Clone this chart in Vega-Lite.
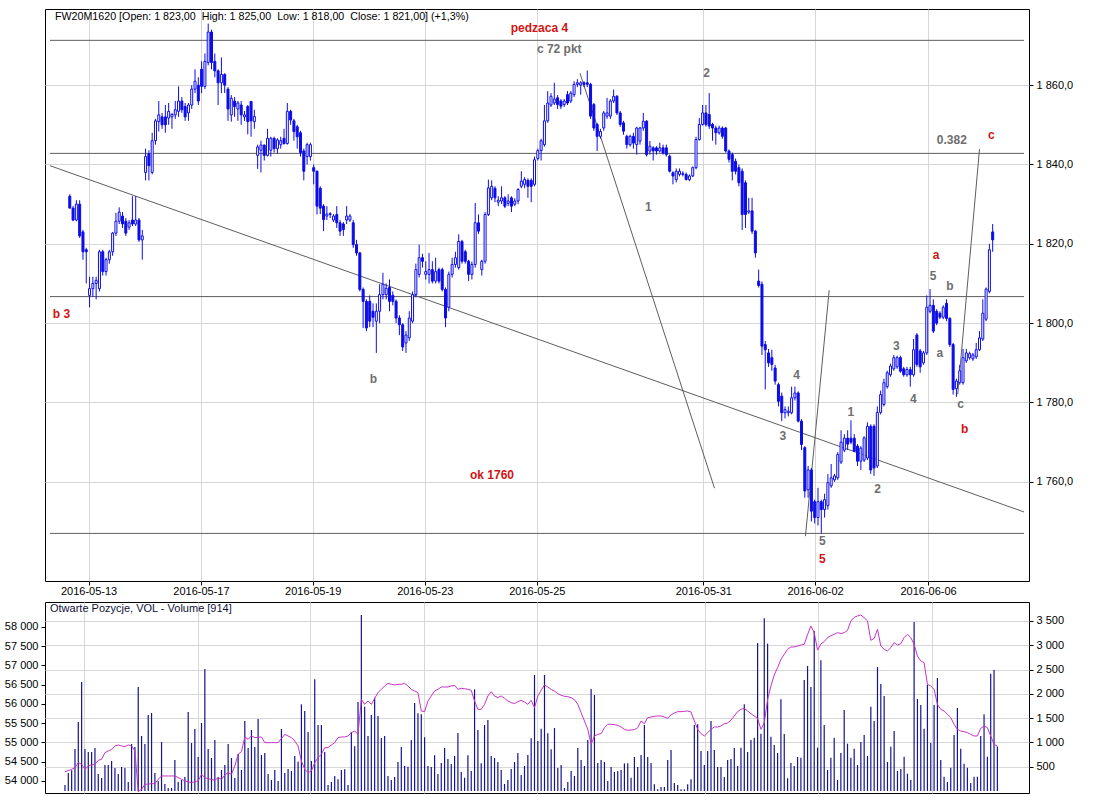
{
"$schema":"https://vega.github.io/schema/vega-lite/v6.json",
"background":"white",
"padding":{"left":3,"top":8,"right":5,"bottom":0},
"autosize":{"type":"pad"},
"config":{"view":{"stroke":"#000","strokeWidth":1},"font":"Liberation Sans","text":{"font":"Liberation Sans"}},
"bounds":"flush",
"spacing":21,
"datasets":{
"b":[
{"i":0,"o":1832,"h":1832.5,"l":1829,"c":1829,"v":123,"oi":54242},
{"i":1,"o":1829,"h":1829.5,"l":1825.7,"c":1826,"v":370,"oi":54270},
{"i":2,"o":1826,"h":1831,"l":1825.7,"c":1830,"v":425,"oi":54303},
{"i":3,"o":1830,"h":1831,"l":1821.5,"c":1822,"v":864,"oi":54346},
{"i":4,"o":1823,"h":1823.5,"l":1816,"c":1818,"v":1420,"oi":54476},
{"i":5,"o":1818.5,"h":1819,"l":1810,"c":1818,"v":2243,"oi":54433},
{"i":6,"o":1807,"h":1811.7,"l":1804,"c":1808.7,"v":864,"oi":54303},
{"i":7,"o":1808.7,"h":1811.7,"l":1806.6,"c":1810,"v":802,"oi":54390},
{"i":8,"o":1810,"h":1811.7,"l":1806,"c":1810.8,"v":802,"oi":54416},
{"i":9,"o":1808.7,"h":1818.5,"l":1808,"c":1818,"v":885,"oi":54433},
{"i":10,"o":1818,"h":1818.5,"l":1812,"c":1813,"v":350,"oi":54537},
{"i":11,"o":1813,"h":1816.5,"l":1812,"c":1816,"v":267,"oi":54563},
{"i":12,"o":1816,"h":1818.5,"l":1815,"c":1818,"v":535,"oi":54736},
{"i":13,"o":1818,"h":1823,"l":1817,"c":1822.7,"v":535,"oi":54779},
{"i":14,"o":1822.7,"h":1827.8,"l":1822,"c":1825.7,"v":617,"oi":54822},
{"i":15,"o":1825.7,"h":1829.2,"l":1825,"c":1828,"v":473,"oi":54909},
{"i":16,"o":1827,"h":1828,"l":1824,"c":1825,"v":350,"oi":54935},
{"i":17,"o":1825.7,"h":1826.5,"l":1822,"c":1822.7,"v":494,"oi":54910},
{"i":18,"o":1824.2,"h":1826,"l":1823.5,"c":1825.3,"v":473,"oi":54892},
{"i":19,"o":1826,"h":1832,"l":1824.5,"c":1825,"v":185,"oi":54935},
{"i":20,"o":1825,"h":1832,"l":1824.5,"c":1826,"v":967,"oi":54909},
{"i":21,"o":1826,"h":1826.5,"l":1820.5,"c":1821,"v":905,"oi":54779},
{"i":22,"o":1821,"h":1823.5,"l":1816,"c":1822,"v":2140,"oi":53723},
{"i":23,"o":1838,"h":1844,"l":1836,"c":1842,"v":1132,"oi":53784},
{"i":24,"o":1842.7,"h":1843.6,"l":1836,"c":1839.7,"v":967,"oi":53913},
{"i":25,"o":1838,"h":1848,"l":1837.5,"c":1846,"v":1564,"oi":53920},
{"i":26,"o":1846,"h":1851.5,"l":1845,"c":1851,"v":1605,"oi":53931},
{"i":27,"o":1850.8,"h":1856,"l":1848.3,"c":1852.5,"v":370,"oi":53931},
{"i":28,"o":1852,"h":1853,"l":1849,"c":1850,"v":206,"oi":54043},
{"i":29,"o":1852,"h":1855,"l":1848,"c":1850,"v":1008,"oi":54130},
{"i":30,"o":1851.7,"h":1855.5,"l":1850,"c":1853.4,"v":144,"oi":54130},
{"i":31,"o":1852,"h":1853,"l":1849,"c":1852.6,"v":62,"oi":54130},
{"i":32,"o":1852.5,"h":1856,"l":1851.5,"c":1853.8,"v":62,"oi":54130},
{"i":33,"o":1853.4,"h":1859.7,"l":1852,"c":1856,"v":638,"oi":54130},
{"i":34,"o":1856,"h":1857,"l":1853,"c":1853.8,"v":185,"oi":54090},
{"i":35,"o":1854.6,"h":1855.5,"l":1851,"c":1852,"v":226,"oi":54043},
{"i":36,"o":1853,"h":1855.5,"l":1851,"c":1855,"v":288,"oi":54000},
{"i":37,"o":1855,"h":1860,"l":1854,"c":1859,"v":1625,"oi":53980},
{"i":38,"o":1859,"h":1864,"l":1858,"c":1861,"v":988,"oi":53957},
{"i":39,"o":1860,"h":1862,"l":1855,"c":1856,"v":1276,"oi":53980},
{"i":40,"o":1864,"h":1866,"l":1858,"c":1859.7,"v":700,"oi":54000},
{"i":41,"o":1859.7,"h":1868,"l":1859,"c":1866,"v":1399,"oi":54173},
{"i":42,"o":1865.7,"h":1875.5,"l":1865,"c":1873.4,"v":2510,"oi":54087},
{"i":43,"o":1873.4,"h":1874,"l":1864,"c":1865.7,"v":864,"oi":54060},
{"i":44,"o":1866,"h":1868,"l":1862,"c":1863.6,"v":679,"oi":54043},
{"i":45,"o":1863.6,"h":1864,"l":1855,"c":1860.6,"v":1049,"oi":54017},
{"i":46,"o":1860.6,"h":1867,"l":1858,"c":1862.7,"v":288,"oi":54087},
{"i":47,"o":1862.7,"h":1863,"l":1858,"c":1860,"v":432,"oi":54043},
{"i":48,"o":1859,"h":1859.5,"l":1851,"c":1854,"v":535,"oi":54156},
{"i":49,"o":1852.5,"h":1857.5,"l":1850.8,"c":1856.7,"v":967,"oi":54216},
{"i":50,"o":1856,"h":1857,"l":1852,"c":1854.6,"v":679,"oi":54173},
{"i":51,"o":1854,"h":1856,"l":1851,"c":1855.5,"v":267,"oi":54390},
{"i":52,"o":1855,"h":1856,"l":1850,"c":1852.5,"v":761,"oi":54693},
{"i":53,"o":1852,"h":1853.5,"l":1851,"c":1852.5,"v":432,"oi":54762},
{"i":54,"o":1854.6,"h":1855,"l":1847.6,"c":1850.8,"v":1440,"oi":55143},
{"i":55,"o":1855.9,"h":1856,"l":1847,"c":1851,"v":885,"oi":55082},
{"i":56,"o":1850.8,"h":1853.8,"l":1849,"c":1852.1,"v":1255,"oi":55169},
{"i":57,"o":1842.3,"h":1845,"l":1838.9,"c":1844.4,"v":905,"oi":55126},
{"i":58,"o":1843.6,"h":1846,"l":1838,"c":1844.9,"v":1481,"oi":55135},
{"i":59,"o":1844.9,"h":1845,"l":1841,"c":1842.3,"v":741,"oi":55143},
{"i":60,"o":1842.3,"h":1849,"l":1842,"c":1846.6,"v":782,"oi":54996},
{"i":61,"o":1843.6,"h":1847,"l":1842,"c":1846.6,"v":350,"oi":54996},
{"i":62,"o":1846.6,"h":1847,"l":1843,"c":1844,"v":226,"oi":54996},
{"i":63,"o":1844,"h":1846.6,"l":1842.7,"c":1846.2,"v":432,"oi":54996},
{"i":64,"o":1845,"h":1847,"l":1844,"c":1846,"v":206,"oi":54996},
{"i":65,"o":1846.6,"h":1849,"l":1845,"c":1845.3,"v":1276,"oi":55100},
{"i":66,"o":1845.3,"h":1855.5,"l":1845,"c":1853.4,"v":370,"oi":55212},
{"i":67,"o":1853.4,"h":1853.8,"l":1850,"c":1851.2,"v":453,"oi":55169},
{"i":68,"o":1851,"h":1851.5,"l":1846,"c":1848.3,"v":412,"oi":55126},
{"i":69,"o":1849.5,"h":1850,"l":1844,"c":1847,"v":720,"oi":55039},
{"i":70,"o":1848,"h":1848.5,"l":1842,"c":1843,"v":600,"oi":54909},
{"i":71,"o":1843.4,"h":1844,"l":1836,"c":1838.3,"v":1783,"oi":54519},
{"i":72,"o":1842,"h":1845.5,"l":1840,"c":1845,"v":1646,"oi":54303},
{"i":73,"o":1842,"h":1845.5,"l":1841,"c":1845,"v":1214,"oi":54216},
{"i":74,"o":1839.2,"h":1840,"l":1835,"c":1838.3,"v":617,"oi":54260},
{"i":75,"o":1838.3,"h":1838.5,"l":1827.4,"c":1829.5,"v":2298,"oi":54476},
{"i":76,"o":1834,"h":1834.5,"l":1827.5,"c":1829,"v":1358,"oi":54606},
{"i":77,"o":1829.5,"h":1830,"l":1823.2,"c":1826.1,"v":1358,"oi":54693},
{"i":78,"o":1827,"h":1829.5,"l":1826,"c":1827.5,"v":802,"oi":54866},
{"i":79,"o":1827.4,"h":1828,"l":1826.5,"c":1827.6,"v":123,"oi":54866},
{"i":80,"o":1826,"h":1827.5,"l":1825.5,"c":1827,"v":185,"oi":54935},
{"i":81,"o":1827.4,"h":1829.5,"l":1824,"c":1825.3,"v":309,"oi":54996},
{"i":82,"o":1825.3,"h":1826,"l":1822,"c":1823.2,"v":240,"oi":55126},
{"i":83,"o":1825,"h":1825.5,"l":1822,"c":1823.6,"v":432,"oi":55143},
{"i":84,"o":1826,"h":1829.5,"l":1825,"c":1827,"v":446,"oi":55143},
{"i":85,"o":1826,"h":1827.5,"l":1825.5,"c":1827,"v":123,"oi":55169},
{"i":86,"o":1825.3,"h":1826,"l":1819,"c":1819.8,"v":1214,"oi":55255},
{"i":87,"o":1819.8,"h":1821,"l":1817,"c":1817.7,"v":919,"oi":55299},
{"i":88,"o":1817.7,"h":1818,"l":1808,"c":1808.5,"v":1831,"oi":55212},
{"i":89,"o":1808.5,"h":1809,"l":1798.8,"c":1805.5,"v":3621,"oi":56121},
{"i":90,"o":1805.5,"h":1806,"l":1798,"c":1798.8,"v":1735,"oi":55991},
{"i":91,"o":1805.5,"h":1807,"l":1799,"c":1800.5,"v":1132,"oi":56078},
{"i":92,"o":1803,"h":1805,"l":1799,"c":1801.5,"v":1564,"oi":55991},
{"i":93,"o":1800.5,"h":1805,"l":1792.5,"c":1803,"v":1920,"oi":56147},
{"i":94,"o":1803,"h":1809.8,"l":1800,"c":1807.2,"v":1543,"oi":56294},
{"i":95,"o":1807.2,"h":1812.7,"l":1806,"c":1809.8,"v":1091,"oi":56381},
{"i":96,"o":1807.2,"h":1810,"l":1806,"c":1808.8,"v":1132,"oi":56468},
{"i":97,"o":1809,"h":1811,"l":1803,"c":1805.5,"v":309,"oi":56537},
{"i":98,"o":1807,"h":1808,"l":1804.5,"c":1805.5,"v":226,"oi":56511},
{"i":99,"o":1805.5,"h":1806,"l":1800,"c":1801.3,"v":288,"oi":56494},
{"i":100,"o":1801.3,"h":1802,"l":1797,"c":1799.6,"v":597,"oi":56511},
{"i":101,"o":1799.6,"h":1800,"l":1793,"c":1794,"v":905,"oi":56511},
{"i":102,"o":1795,"h":1798,"l":1792.5,"c":1797,"v":514,"oi":56537},
{"i":103,"o":1796.3,"h":1803,"l":1795.5,"c":1801.3,"v":501,"oi":56468},
{"i":104,"o":1800.5,"h":1808,"l":1800,"c":1807.2,"v":1049,"oi":56381},
{"i":105,"o":1807.2,"h":1815,"l":1806.5,"c":1813.5,"v":1811,"oi":56338},
{"i":106,"o":1812.3,"h":1819.8,"l":1811.5,"c":1816.5,"v":1598,"oi":56294},
{"i":107,"o":1816.5,"h":1817.5,"l":1814,"c":1815.6,"v":1578,"oi":55818},
{"i":108,"o":1812.3,"h":1815.6,"l":1811,"c":1813,"v":1104,"oi":55801},
{"i":109,"o":1812.3,"h":1817.7,"l":1810,"c":1813.5,"v":514,"oi":56078},
{"i":110,"o":1813.5,"h":1815.6,"l":1810,"c":1810.6,"v":494,"oi":56208},
{"i":111,"o":1810.6,"h":1816.5,"l":1810,"c":1813,"v":734,"oi":56338},
{"i":112,"o":1813.5,"h":1814,"l":1810,"c":1810.6,"v":350,"oi":56381},
{"i":113,"o":1813.5,"h":1814,"l":1808,"c":1808.5,"v":576,"oi":56442},
{"i":114,"o":1808.5,"h":1809,"l":1799,"c":1801.3,"v":885,"oi":56442},
{"i":115,"o":1804,"h":1813,"l":1803,"c":1812.3,"v":658,"oi":56442},
{"i":116,"o":1812.3,"h":1816.5,"l":1811.5,"c":1814.8,"v":556,"oi":56468},
{"i":117,"o":1814.8,"h":1818,"l":1814,"c":1816.5,"v":720,"oi":56485},
{"i":118,"o":1814,"h":1822.4,"l":1813.5,"c":1820.6,"v":1193,"oi":56381},
{"i":119,"o":1820.6,"h":1821,"l":1815,"c":1815.6,"v":391,"oi":56407},
{"i":120,"o":1818,"h":1818.5,"l":1815,"c":1815.6,"v":274,"oi":56398},
{"i":121,"o":1815.6,"h":1816,"l":1810.6,"c":1812.3,"v":734,"oi":56381},
{"i":122,"o":1812.3,"h":1815.5,"l":1811,"c":1814.8,"v":412,"oi":56355},
{"i":123,"o":1814.8,"h":1830.3,"l":1814,"c":1825.3,"v":2092,"oi":56078},
{"i":124,"o":1825.3,"h":1827.4,"l":1822.5,"c":1823.2,"v":1255,"oi":55861},
{"i":125,"o":1813.5,"h":1816,"l":1812,"c":1815.6,"v":569,"oi":55861},
{"i":126,"o":1815.6,"h":1828,"l":1815,"c":1827.4,"v":1358,"oi":55991},
{"i":127,"o":1827.4,"h":1836.2,"l":1827,"c":1834.1,"v":1461,"oi":56208},
{"i":128,"o":1831.6,"h":1836,"l":1831,"c":1834.5,"v":720,"oi":56320},
{"i":129,"o":1834,"h":1834.5,"l":1830.5,"c":1831.6,"v":679,"oi":56208},
{"i":130,"o":1830.5,"h":1832,"l":1829.5,"c":1831,"v":597,"oi":56165},
{"i":131,"o":1830.8,"h":1834.5,"l":1830,"c":1831.6,"v":432,"oi":56208},
{"i":132,"o":1831.6,"h":1832,"l":1829,"c":1829.5,"v":144,"oi":56147},
{"i":133,"o":1830.2,"h":1832.5,"l":1829.5,"c":1830.8,"v":226,"oi":56078},
{"i":134,"o":1831.6,"h":1832,"l":1828,"c":1829.5,"v":453,"oi":56035},
{"i":135,"o":1830,"h":1831.5,"l":1829.5,"c":1830.8,"v":597,"oi":56009},
{"i":136,"o":1830.8,"h":1834,"l":1830,"c":1833.7,"v":782,"oi":56061},
{"i":137,"o":1834.5,"h":1838.3,"l":1834,"c":1835.8,"v":329,"oi":56095},
{"i":138,"o":1835,"h":1836.8,"l":1834,"c":1836.2,"v":514,"oi":56052},
{"i":139,"o":1836,"h":1836.5,"l":1831.6,"c":1834.5,"v":741,"oi":55991},
{"i":140,"o":1836,"h":1836.5,"l":1830.5,"c":1834.5,"v":1084,"oi":56095},
{"i":141,"o":1835,"h":1842,"l":1834.5,"c":1841.2,"v":2387,"oi":55905},
{"i":142,"o":1841.5,"h":1844,"l":1841,"c":1843.5,"v":1029,"oi":56208},
{"i":143,"o":1843.5,"h":1846.5,"l":1841,"c":1846,"v":1283,"oi":56355},
{"i":144,"o":1845,"h":1855,"l":1844.5,"c":1851,"v":2387,"oi":56494},
{"i":145,"o":1851,"h":1858.5,"l":1850.5,"c":1855.5,"v":1187,"oi":56442},
{"i":146,"o":1855,"h":1858,"l":1854.5,"c":1857.2,"v":857,"oi":56381},
{"i":147,"o":1855.5,"h":1860.6,"l":1855,"c":1856.5,"v":1296,"oi":56338},
{"i":148,"o":1856.8,"h":1857.5,"l":1854,"c":1855.1,"v":473,"oi":56268},
{"i":149,"o":1856,"h":1856.5,"l":1854,"c":1854.7,"v":535,"oi":56225},
{"i":150,"o":1855.1,"h":1856.5,"l":1854.5,"c":1856,"v":62,"oi":56199},
{"i":151,"o":1857.6,"h":1858.5,"l":1855,"c":1855.5,"v":185,"oi":56190},
{"i":152,"o":1856,"h":1858.5,"l":1855.5,"c":1858,"v":412,"oi":56165},
{"i":153,"o":1857.6,"h":1861,"l":1857,"c":1860.2,"v":309,"oi":56113},
{"i":154,"o":1860.2,"h":1861.5,"l":1859.5,"c":1860.6,"v":885,"oi":55991},
{"i":155,"o":1860,"h":1861,"l":1857.6,"c":1860.6,"v":638,"oi":55775},
{"i":156,"o":1860.6,"h":1861,"l":1859.5,"c":1860.2,"v":514,"oi":55558},
{"i":157,"o":1860.6,"h":1863.7,"l":1859.5,"c":1860.2,"v":1049,"oi":55342},
{"i":158,"o":1860.2,"h":1860.6,"l":1851.5,"c":1852.2,"v":2099,"oi":54952},
{"i":159,"o":1855.1,"h":1855.5,"l":1848.5,"c":1849.2,"v":1975,"oi":55169},
{"i":160,"o":1850.1,"h":1850.5,"l":1843.4,"c":1847.1,"v":576,"oi":55212},
{"i":161,"o":1847.1,"h":1849,"l":1846.5,"c":1848.3,"v":638,"oi":55229},
{"i":162,"o":1849.2,"h":1853.5,"l":1848.5,"c":1853,"v":597,"oi":55385},
{"i":163,"o":1852.2,"h":1856.8,"l":1851.5,"c":1853,"v":206,"oi":55472},
{"i":164,"o":1852.2,"h":1856.5,"l":1851.5,"c":1856,"v":494,"oi":55472},
{"i":165,"o":1856,"h":1858.9,"l":1855.5,"c":1857.2,"v":391,"oi":55463},
{"i":166,"o":1857.2,"h":1857.5,"l":1852.5,"c":1853,"v":412,"oi":55446},
{"i":167,"o":1853,"h":1853.5,"l":1849.5,"c":1850.1,"v":432,"oi":55403},
{"i":168,"o":1850.5,"h":1851,"l":1847.5,"c":1848.4,"v":569,"oi":55342},
{"i":169,"o":1847.1,"h":1847.5,"l":1844,"c":1845,"v":569,"oi":55316},
{"i":170,"o":1845,"h":1847.5,"l":1844.5,"c":1847.1,"v":274,"oi":55325},
{"i":171,"o":1847.1,"h":1848,"l":1844,"c":1845.4,"v":700,"oi":55333},
{"i":172,"o":1845,"h":1849.5,"l":1842.5,"c":1849.2,"v":494,"oi":55385},
{"i":173,"o":1845.9,"h":1849.5,"l":1845,"c":1849.2,"v":741,"oi":55558},
{"i":174,"o":1849.2,"h":1853,"l":1848.5,"c":1850.9,"v":1358,"oi":55489},
{"i":175,"o":1850.9,"h":1851.2,"l":1842,"c":1842.5,"v":700,"oi":55645},
{"i":176,"o":1843.4,"h":1845.9,"l":1842.5,"c":1844.6,"v":576,"oi":55662},
{"i":177,"o":1844.2,"h":1844.6,"l":1841,"c":1843.4,"v":137,"oi":55680},
{"i":178,"o":1844.2,"h":1844.6,"l":1842.5,"c":1843.4,"v":34,"oi":55688},
{"i":179,"o":1843.4,"h":1845.5,"l":1843,"c":1844.2,"v":82,"oi":55688},
{"i":180,"o":1844.2,"h":1845,"l":1842.5,"c":1842.9,"v":82,"oi":55662},
{"i":181,"o":1844.2,"h":1845,"l":1842,"c":1842.5,"v":638,"oi":55628},
{"i":182,"o":1842.1,"h":1842.5,"l":1838,"c":1838.3,"v":844,"oi":55714},
{"i":183,"o":1837.9,"h":1838.3,"l":1835,"c":1837.1,"v":165,"oi":55766},
{"i":184,"o":1836.2,"h":1839,"l":1835.5,"c":1838.3,"v":123,"oi":55801},
{"i":185,"o":1837.5,"h":1839,"l":1837,"c":1838.3,"v":34,"oi":55801},
{"i":186,"o":1837.5,"h":1838.3,"l":1837,"c":1837.7,"v":34,"oi":55810},
{"i":187,"o":1837.5,"h":1838,"l":1836,"c":1836.2,"v":137,"oi":55818},
{"i":188,"o":1836.2,"h":1837.5,"l":1835.8,"c":1837.1,"v":240,"oi":55792},
{"i":189,"o":1837.1,"h":1839.5,"l":1836.8,"c":1839.2,"v":1358,"oi":55558},
{"i":190,"o":1839.2,"h":1847,"l":1838.8,"c":1846.3,"v":1372,"oi":55342},
{"i":191,"o":1846.3,"h":1851.7,"l":1846,"c":1850.1,"v":823,"oi":55229},
{"i":192,"o":1850.1,"h":1855,"l":1849.8,"c":1853,"v":535,"oi":55169},
{"i":193,"o":1853,"h":1855,"l":1849.5,"c":1850.1,"v":823,"oi":55255},
{"i":194,"o":1852.6,"h":1858,"l":1849,"c":1849.7,"v":1440,"oi":55342},
{"i":195,"o":1850.1,"h":1850.5,"l":1846,"c":1849.2,"v":844,"oi":55403},
{"i":196,"o":1849.2,"h":1849.8,"l":1845,"c":1848,"v":494,"oi":55403},
{"i":197,"o":1848,"h":1849.8,"l":1847.5,"c":1849.2,"v":494,"oi":55429},
{"i":198,"o":1849.2,"h":1849.6,"l":1846.5,"c":1847.1,"v":288,"oi":55489},
{"i":199,"o":1849.2,"h":1849.5,"l":1843,"c":1843.4,"v":638,"oi":55506},
{"i":200,"o":1843.4,"h":1843.8,"l":1840.5,"c":1841.3,"v":658,"oi":55584},
{"i":201,"o":1842.5,"h":1843,"l":1836,"c":1838.3,"v":885,"oi":55688},
{"i":202,"o":1840.8,"h":1841.5,"l":1837.5,"c":1838.3,"v":514,"oi":55801},
{"i":203,"o":1839.2,"h":1840,"l":1834.5,"c":1835.4,"v":892,"oi":55861},
{"i":204,"o":1838.3,"h":1839,"l":1823.5,"c":1827.4,"v":1783,"oi":55887},
{"i":205,"o":1835.4,"h":1836,"l":1824,"c":1827.4,"v":802,"oi":55818},
{"i":206,"o":1828,"h":1831.6,"l":1827.5,"c":1828.3,"v":1049,"oi":55749},
{"i":207,"o":1828.3,"h":1831.6,"l":1822.5,"c":1823.2,"v":1097,"oi":55688},
{"i":208,"o":1823.2,"h":1823.5,"l":1816.5,"c":1817.7,"v":3045,"oi":55628},
{"i":209,"o":1810.6,"h":1813.5,"l":1809,"c":1809.5,"v":1180,"oi":55342},
{"i":210,"o":1809.8,"h":1810.5,"l":1792,"c":1794.2,"v":3553,"oi":55515},
{"i":211,"o":1794.6,"h":1795.5,"l":1783.3,"c":1793.3,"v":3032,"oi":56121},
{"i":212,"o":1792.5,"h":1793.5,"l":1789,"c":1790,"v":1118,"oi":56468},
{"i":213,"o":1791.3,"h":1793.3,"l":1788,"c":1789.6,"v":947,"oi":56753},
{"i":214,"o":1788.7,"h":1789.5,"l":1784.5,"c":1785.4,"v":782,"oi":56944},
{"i":215,"o":1784.5,"h":1785,"l":1779,"c":1780.3,"v":1886,"oi":57160},
{"i":216,"o":1781.6,"h":1782.5,"l":1775.3,"c":1777.4,"v":1173,"oi":57290},
{"i":217,"o":1777.4,"h":1779,"l":1776,"c":1778.2,"v":261,"oi":57420},
{"i":218,"o":1777.4,"h":1779,"l":1776.5,"c":1777.8,"v":576,"oi":57481},
{"i":219,"o":1777.4,"h":1784,"l":1777,"c":1781.2,"v":514,"oi":57481},
{"i":220,"o":1781.2,"h":1784,"l":1780.5,"c":1782.4,"v":700,"oi":57506},
{"i":221,"o":1782.4,"h":1782.8,"l":1775,"c":1775.3,"v":686,"oi":57530},
{"i":222,"o":1775.3,"h":1775.8,"l":1768,"c":1769.4,"v":2284,"oi":57550},
{"i":223,"o":1768.6,"h":1769,"l":1756,"c":1757.7,"v":2572,"oi":57800},
{"i":224,"o":1758,"h":1764,"l":1756,"c":1763,"v":2140,"oi":58026},
{"i":225,"o":1763,"h":1763.5,"l":1750,"c":1752.6,"v":3292,"oi":57853},
{"i":226,"o":1755,"h":1755.5,"l":1749.5,"c":1751,"v":892,"oi":57400},
{"i":227,"o":1751,"h":1758.5,"l":1749,"c":1755,"v":2689,"oi":57560},
{"i":228,"o":1755,"h":1755.5,"l":1747,"c":1753,"v":1358,"oi":57619},
{"i":229,"o":1753,"h":1757,"l":1751,"c":1755.5,"v":432,"oi":57723},
{"i":230,"o":1754,"h":1762,"l":1753,"c":1759.8,"v":686,"oi":57770},
{"i":231,"o":1759,"h":1764.5,"l":1758.5,"c":1761,"v":1097,"oi":57810},
{"i":232,"o":1760.5,"h":1762,"l":1760,"c":1761.5,"v":226,"oi":57853},
{"i":233,"o":1761,"h":1767.5,"l":1760.5,"c":1766.9,"v":782,"oi":57830},
{"i":234,"o":1765,"h":1773,"l":1764.5,"c":1770,"v":1667,"oi":57850},
{"i":235,"o":1768,"h":1772,"l":1767.5,"c":1771,"v":974,"oi":57913},
{"i":236,"o":1771,"h":1773,"l":1768,"c":1769.5,"v":686,"oi":58156},
{"i":237,"o":1771,"h":1775.5,"l":1769.5,"c":1770,"v":871,"oi":58250},
{"i":238,"o":1771,"h":1772,"l":1767.5,"c":1767.7,"v":535,"oi":58286},
{"i":239,"o":1769,"h":1769.5,"l":1764,"c":1765.2,"v":1008,"oi":58312},
{"i":240,"o":1765.2,"h":1769,"l":1763,"c":1768.5,"v":1152,"oi":58242},
{"i":241,"o":1765.5,"h":1771.5,"l":1765,"c":1771.1,"v":720,"oi":58156},
{"i":242,"o":1766,"h":1775,"l":1765.5,"c":1774,"v":1735,"oi":57654},
{"i":243,"o":1774,"h":1774.5,"l":1762,"c":1763,"v":1440,"oi":57700},
{"i":244,"o":1774,"h":1774.5,"l":1761.5,"c":1763.5,"v":2551,"oi":57939},
{"i":245,"o":1764,"h":1779,"l":1763.5,"c":1777.5,"v":2202,"oi":57506},
{"i":246,"o":1777.5,"h":1783,"l":1777,"c":1782,"v":1955,"oi":57420},
{"i":247,"o":1779.5,"h":1786,"l":1779,"c":1785,"v":597,"oi":57377},
{"i":248,"o":1784,"h":1788,"l":1783.5,"c":1787.5,"v":912,"oi":57463},
{"i":249,"o":1787,"h":1789.8,"l":1786.5,"c":1789.2,"v":1235,"oi":57593},
{"i":250,"o":1788.5,"h":1792,"l":1788,"c":1791.3,"v":412,"oi":57532},
{"i":251,"o":1789,"h":1791.8,"l":1788.5,"c":1791.3,"v":453,"oi":57567},
{"i":252,"o":1791.3,"h":1791.8,"l":1787.5,"c":1787.9,"v":706,"oi":57723},
{"i":253,"o":1788.5,"h":1789,"l":1786.5,"c":1787,"v":357,"oi":57810},
{"i":254,"o":1787,"h":1789,"l":1786.5,"c":1788.3,"v":226,"oi":57723},
{"i":255,"o":1788.3,"h":1789,"l":1784,"c":1787,"v":3477,"oi":57550},
{"i":256,"o":1787,"h":1796,"l":1786.5,"c":1793.3,"v":1893,"oi":57247},
{"i":257,"o":1797,"h":1797.5,"l":1789,"c":1789.6,"v":1770,"oi":57117},
{"i":258,"o":1793,"h":1793.5,"l":1787.5,"c":1789,"v":1283,"oi":57074},
{"i":259,"o":1790,"h":1793,"l":1789.5,"c":1792.5,"v":2181,"oi":56511},
{"i":260,"o":1792.5,"h":1807,"l":1792,"c":1804,"v":988,"oi":56468},
{"i":261,"o":1803,"h":1808.6,"l":1802.5,"c":1804.5,"v":1770,"oi":56381},
{"i":262,"o":1804.5,"h":1806,"l":1797.5,"c":1798,"v":2325,"oi":55991},
{"i":263,"o":1803,"h":1803.5,"l":1799.5,"c":1800,"v":638,"oi":55861},
{"i":264,"o":1802.5,"h":1803,"l":1801,"c":1801.5,"v":295,"oi":55818},
{"i":265,"o":1801.5,"h":1804.5,"l":1801,"c":1804,"v":185,"oi":55732},
{"i":266,"o":1805,"h":1806,"l":1800.5,"c":1801.2,"v":480,"oi":55645},
{"i":267,"o":1801.2,"h":1801.5,"l":1794,"c":1794.6,"v":1152,"oi":55472},
{"i":268,"o":1794.6,"h":1795,"l":1782,"c":1783.3,"v":1708,"oi":55342},
{"i":269,"o":1783.5,"h":1786,"l":1781.4,"c":1785.4,"v":871,"oi":55299},
{"i":270,"o":1785,"h":1789.5,"l":1784.5,"c":1788,"v":562,"oi":55281},
{"i":271,"o":1785,"h":1793.5,"l":1784.5,"c":1791.3,"v":480,"oi":55255},
{"i":272,"o":1790.5,"h":1793.5,"l":1790,"c":1792.5,"v":165,"oi":55212},
{"i":273,"o":1791.3,"h":1792.8,"l":1790.8,"c":1792.3,"v":295,"oi":55169},
{"i":274,"o":1791,"h":1792.5,"l":1790.5,"c":1792,"v":295,"oi":55169},
{"i":275,"o":1791.5,"h":1795,"l":1791,"c":1793.3,"v":1132,"oi":55368},
{"i":276,"o":1793.3,"h":1798,"l":1793,"c":1796.3,"v":1578,"oi":55429},
{"i":277,"o":1796,"h":1806,"l":1795.5,"c":1802.5,"v":706,"oi":55385},
{"i":278,"o":1801,"h":1809,"l":1800.5,"c":1808.6,"v":2414,"oi":55169},
{"i":279,"o":1808,"h":1820,"l":1807.5,"c":1818.5,"v":2490,"oi":54952},
{"i":280,"o":1823,"h":1825,"l":1818,"c":1821,"v":914,"oi":54909}
],
"ln":[
{"i":-6,"p":1871.3,"i2":289.5,"p2":1871.3},
{"i":-6,"p":1842.8,"i2":289.5,"p2":1842.8},
{"i":-6,"p":1806.7,"i2":289.5,"p2":1806.7},
{"i":-6,"p":1747.0,"i2":289.5,"p2":1747.0},
{"i":-6,"p":1839.7,"i2":289.5,"p2":1752.4},
{"i":154.8,"p":1863.0,"i2":195.6,"p2":1758.4},
{"i":223.2,"p":1746.3,"i2":230.4,"p2":1808.3},
{"i":269.4,"p":1782.1,"i2":276.0,"p2":1843.9}
],
"tx":[
{"t":"pedzaca 4","i":142.5,"p":1874.4,"g":"r"},
{"t":"c 72 pkt","i":148.5,"p":1869.1,"g":"g"},
{"t":"2","i":193.2,"p":1863.0,"g":"g"},
{"t":"0.382","i":267.6,"p":1846.1,"g":"g"},
{"t":"c","i":279.6,"p":1847.4,"g":"r"},
{"t":"1","i":175.5,"p":1829.2,"g":"g"},
{"t":"a","i":262.8,"p":1817.1,"g":"r"},
{"t":"5","i":261.9,"p":1811.9,"g":"g"},
{"t":"b","i":267.0,"p":1809.3,"g":"g"},
{"t":"b 3","i":-2.5,"p":1802.4,"g":"r"},
{"t":"3","i":250.8,"p":1794.2,"g":"g"},
{"t":"a","i":264.0,"p":1792.4,"g":"g"},
{"t":"4","i":220.5,"p":1786.9,"g":"g"},
{"t":"b","i":92.1,"p":1785.9,"g":"g"},
{"t":"4","i":255.9,"p":1780.8,"g":"g"},
{"t":"c","i":270.3,"p":1779.6,"g":"g"},
{"t":"1","i":237.0,"p":1777.6,"g":"g"},
{"t":"3","i":216.3,"p":1771.5,"g":"g"},
{"t":"b","i":271.5,"p":1773.3,"g":"r"},
{"t":"ok 1760","i":128.1,"p":1761.7,"g":"r"},
{"t":"2","i":245.1,"p":1758.2,"g":"g"},
{"t":"5","i":228.3,"p":1745.0,"g":"g"},
{"t":"5","i":228.3,"p":1740.5,"g":"r"}
]
},
"vconcat":[
{
"width":984,"height":572,
"encoding":{"x":{"field":"i","type":"quantitative","scale":{"domain":[-6,289.5],"nice":false,"zero":false},
"axis":{"values":[5.7,39.8,73.7,107.7,141.7,192.2,226.1,260.4],"title":null,"grid":true,"gridColor":"#d7d7d7","domain":false,"tickSize":4,"tickColor":"#000","labelFontSize":11,"labelColor":"#000","labelPadding":0,"labelFlush":false,"labelFont":"Liberation Sans",
"labelExpr":"datum.value < 20 ? '2016-05-13' : datum.value < 50 ? '2016-05-17' : datum.value < 90 ? '2016-05-19' : datum.value < 120 ? '2016-05-23' : datum.value < 160 ? '2016-05-25' : datum.value < 210 ? '2016-05-31' : datum.value < 240 ? '2016-06-02' : '2016-06-06'"}}},
"layer":[
{"data":{"name":"ln"},"mark":{"type":"rule","color":"#5e5e5e","strokeWidth":1},
"encoding":{"y":{"field":"p","type":"quantitative","scale":{"domain":[1735,1879.2],"nice":false,"zero":false},"axis":{"orient":"right","values":[1760,1780,1800,1820,1840,1860],"title":null,"grid":true,"gridColor":"#d7d7d7","domain":false,"tickSize":4,"tickColor":"#000","labelFontSize":11,"labelColor":"#000","labelPadding":3,"labelFont":"Liberation Sans","labelExpr":"floor(datum.value/1000) + ' ' + format(datum.value % 1000, '03d') + ',0'"}},"x2":{"field":"i2"},"y2":{"field":"p2"}}},
{"data":{"name":"b"},"mark":{"type":"rule","color":"#0d0de8","strokeWidth":1},
"encoding":{"y":{"field":"l","type":"quantitative","scale":{"domain":[1735,1879.2],"nice":false,"zero":false},"axis":{"orient":"right","values":[1760,1780,1800,1820,1840,1860],"title":null,"grid":true,"gridColor":"#d7d7d7","domain":false,"tickSize":4,"tickColor":"#000","labelFontSize":11,"labelColor":"#000","labelPadding":3,"labelFont":"Liberation Sans","labelExpr":"floor(datum.value/1000) + ' ' + format(datum.value % 1000, '03d') + ',0'"}},"y2":{"field":"h"}}},
{"data":{"name":"b"},"mark":{"type":"bar","size":2,"stroke":"#0d0de8","strokeWidth":1},
"encoding":{"y":{"field":"o","type":"quantitative","scale":{"domain":[1735,1879.2],"nice":false,"zero":false},"axis":{"orient":"right","values":[1760,1780,1800,1820,1840,1860],"title":null,"grid":true,"gridColor":"#d7d7d7","domain":false,"tickSize":4,"tickColor":"#000","labelFontSize":11,"labelColor":"#000","labelPadding":3,"labelFont":"Liberation Sans","labelExpr":"floor(datum.value/1000) + ' ' + format(datum.value % 1000, '03d') + ',0'"}},"y2":{"field":"c"},
"fill":{"condition":{"test":"datum.c > datum.o","value":"#ffffff"},"value":"#0d0de8"}}},
{"data":{"name":"tx"},"mark":{"type":"text","fontWeight":"bold","fontSize":12,"font":"Liberation Sans","align":"center","baseline":"middle"},
"encoding":{"y":{"field":"p","type":"quantitative","scale":{"domain":[1735,1879.2],"nice":false,"zero":false},"axis":{"orient":"right","values":[1760,1780,1800,1820,1840,1860],"title":null,"grid":true,"gridColor":"#d7d7d7","domain":false,"tickSize":4,"tickColor":"#000","labelFontSize":11,"labelColor":"#000","labelPadding":3,"labelFont":"Liberation Sans","labelExpr":"floor(datum.value/1000) + ' ' + format(datum.value % 1000, '03d') + ',0'"}},"text":{"field":"t"},
"color":{"field":"g","type":"nominal","scale":{"domain":["r","g"],"range":["#d01414","#6e6e6e"]},"legend":null}}},
{"data":{"values":[{"i":-4.5,"p":1877.1,"t":"FW20M1620 [Open: 1 823,00\u00a0 High: 1 825,00\u00a0 Low: 1 818,00\u00a0 Close: 1 821,00] (+1,3%)"}]},
"mark":{"type":"text","align":"left","baseline":"middle","fontSize":10.7,"font":"Liberation Sans","color":"#000"},
"encoding":{"y":{"field":"p","type":"quantitative","scale":{"domain":[1735,1879.2],"nice":false,"zero":false},"axis":{"orient":"right","values":[1760,1780,1800,1820,1840,1860],"title":null,"grid":true,"gridColor":"#d7d7d7","domain":false,"tickSize":4,"tickColor":"#000","labelFontSize":11,"labelColor":"#000","labelPadding":3,"labelFont":"Liberation Sans","labelExpr":"floor(datum.value/1000) + ' ' + format(datum.value % 1000, '03d') + ',0'"}},"text":{"field":"t"}}}
]
},
{
"width":984,"height":191,
"encoding":{"x":{"field":"i","type":"quantitative","scale":{"domain":[-6,289.5],"nice":false,"zero":false},
"axis":{"values":[5.7,39.8,73.7,107.7,141.7,192.2,226.1,260.4],"title":null,"grid":true,"gridColor":"#d7d7d7","domain":false,"ticks":false,"labels":false}}},
"layer":[
{"data":{"name":"b"},"mark":{"type":"rule","color":"#14148e","strokeWidth":1.2},
"encoding":{"y":{"field":"v","type":"quantitative","scale":{"domain":[-41,3889],"nice":false,"zero":false},"axis":{"orient":"right","values":[500,1000,1500,2000,2500,3000,3500],"title":null,"grid":true,"gridColor":"#d7d7d7","domain":false,"tickSize":4,"tickColor":"#000","labelFontSize":11,"labelColor":"#000","labelPadding":3,"labelFont":"Liberation Sans","labelExpr":"datum.value >= 1000 ? floor(datum.value/1000) + ' ' + format(datum.value % 1000, '03d') : format(datum.value, 'd')"}},"y2":{"datum":0}}},
{"data":{"name":"b"},"mark":{"type":"line","color":"#c832c8","strokeWidth":1},
"encoding":{"y":{"field":"oi","type":"quantitative","scale":{"domain":[53688,58649],"nice":false,"zero":false},"axis":{"orient":"left","values":[54000,54500,55000,55500,56000,56500,57000,57500,58000],"title":null,"grid":false,"domain":false,"tickSize":4,"tickColor":"#000","labelFontSize":11,"labelColor":"#000","labelPadding":3,"labelFont":"Liberation Sans","labelExpr":"floor(datum.value/1000) + ' ' + format(datum.value % 1000, '03d')"}}}},
{"data":{"values":[{"i":-4.5,"v":3745,"t":"Otwarte Pozycje, VOL - Volume [914]"}]},
"mark":{"type":"text","align":"left","baseline":"middle","fontSize":11,"font":"Liberation Sans","color":"#10103a"},
"encoding":{"y":{"field":"v","type":"quantitative","scale":{"domain":[-41,3889],"nice":false,"zero":false},"axis":null},"text":{"field":"t"}}}
],
"resolve":{"scale":{"y":"independent"},"axis":{"y":"independent"}}
}
]
}
